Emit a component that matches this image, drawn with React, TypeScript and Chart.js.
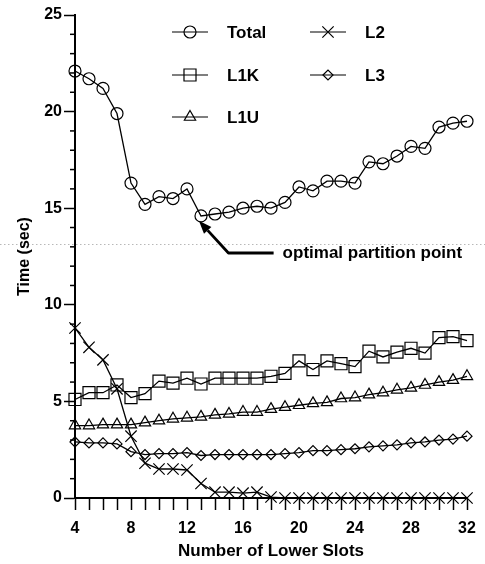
import React, { useEffect, useRef } from 'react';
import { Chart, registerables } from 'chart.js';

Chart.register(...registerables);

// ---- data ----
const SLOTS = [4, 5, 6, 7, 8, 9, 10, 11, 12, 13, 14, 15, 16, 17, 18, 19, 20, 21, 22, 23, 24, 25, 26, 27, 28, 29, 30, 31, 32];
const TOTAL = [22.1, 21.7, 21.2, 19.9, 16.3, 15.2, 15.6, 15.5, 16.0, 14.6, 14.7, 14.8, 15.0, 15.1, 15.0, 15.3, 16.1, 15.9, 16.4, 16.4, 16.3, 17.4, 17.3, 17.7, 18.2, 18.1, 19.2, 19.4, 19.5];
const L1K = [5.1, 5.45, 5.45, 5.85, 5.2, 5.4, 6.05, 5.95, 6.2, 5.9, 6.2, 6.2, 6.2, 6.2, 6.3, 6.45, 7.1, 6.65, 7.1, 6.95, 6.8, 7.6, 7.3, 7.55, 7.75, 7.5, 8.3, 8.35, 8.15];
const L1U = [3.75, 3.75, 3.8, 3.8, 3.8, 3.9, 4.0, 4.1, 4.15, 4.2, 4.3, 4.35, 4.45, 4.45, 4.6, 4.7, 4.8, 4.9, 4.95, 5.15, 5.2, 5.35, 5.45, 5.6, 5.7, 5.85, 6.0, 6.1, 6.3];
const L2 = [8.8, 7.8, 7.15, 5.65, 3.2, 1.8, 1.5, 1.5, 1.45, 0.75, 0.3, 0.3, 0.25, 0.3, 0.05, 0, 0, 0, 0, 0, 0, 0, 0, 0, 0, 0, 0, 0, 0];
const L3 = [2.9, 2.85, 2.85, 2.8, 2.4, 2.25, 2.3, 2.3, 2.35, 2.2, 2.25, 2.25, 2.25, 2.25, 2.25, 2.3, 2.35, 2.45, 2.45, 2.5, 2.55, 2.65, 2.7, 2.75, 2.85, 2.9, 3.0, 3.05, 3.2];

const SERIES_NAMES = ['Total', 'L1K', 'L1U', 'L2', 'L3'];
const SERIES_VALUES = [TOTAL, L1K, L1U, L2, L3];
const SERIES_MARKERS = ['circle', 'rect', 'triangle', 'crossRot', 'rectRot'];
const MARKER_RADII = [6, 8.5, 6.5, 8, 5];

const Y_MIN = 0;
const Y_MAX = 25;
const X_LABEL_STEP = 4;
const ANNOTATION_TEXT = 'optimal partition point';
const X_TITLE = 'Number of Lower Slots';
const Y_TITLE = 'Time (sec)';

const FONT = '"Liberation Sans", Arial, sans-serif';

function drawMarker(ctx: CanvasRenderingContext2D, style: string, x: number, y: number, r: number) {
  ctx.beginPath();
  if (style === 'circle') {
    ctx.arc(x, y, r, 0, Math.PI * 2);
  } else if (style === 'rect') {
    const s = Math.SQRT1_2 * r;
    ctx.rect(x - s, y - s, 2 * s, 2 * s);
  } else if (style === 'triangle') {
    ctx.moveTo(x, y - r);
    ctx.lineTo(x + r * Math.sin((2 * Math.PI) / 3), y - r * Math.cos((2 * Math.PI) / 3));
    ctx.lineTo(x + r * Math.sin((4 * Math.PI) / 3), y - r * Math.cos((4 * Math.PI) / 3));
    ctx.closePath();
  } else if (style === 'rectRot') {
    ctx.moveTo(x - r, y);
    ctx.lineTo(x, y - r);
    ctx.lineTo(x + r, y);
    ctx.lineTo(x, y + r);
    ctx.closePath();
  } else if (style === 'crossRot') {
    const o = Math.SQRT1_2 * r;
    ctx.moveTo(x - o, y - o);
    ctx.lineTo(x + o, y + o);
    ctx.moveTo(x + o, y - o);
    ctx.lineTo(x - o, y + o);
  }
  ctx.stroke();
}

const decorPlugin = {
  id: 'decor',
  afterDraw(chart: any) {
    const ctx: CanvasRenderingContext2D = chart.ctx;
    const xs = chart.scales.x;
    const ys = chart.scales.y;
    const area = chart.chartArea;
    ctx.save();

    // faint scan line across the page
    const scanY = Math.round(ys.getPixelForValue(13.17)) + 0.5;
    ctx.strokeStyle = 'rgba(0,0,0,0.28)';
    ctx.lineWidth = 1;
    ctx.setLineDash([1.5, 2.5]);
    ctx.beginPath();
    ctx.moveTo(0, scanY);
    ctx.lineTo(chart.width, scanY);
    ctx.stroke();
    ctx.setLineDash([]);

    // minor y ticks
    ctx.strokeStyle = '#000';
    ctx.lineWidth = 1.5;
    for (let v = Y_MIN; v <= Y_MAX; v++) {
      if (v % 5 === 0) continue;
      const py = ys.getPixelForValue(v);
      ctx.beginPath();
      ctx.moveTo(area.left - 5, py);
      ctx.lineTo(area.left, py);
      ctx.stroke();
    }

    // legend
    const cols = [area.left + 97, area.left + 235];
    const rows = [area.top + 17, area.top + 60, area.top + 102];
    const places = [[0, 0], [0, 1], [0, 2], [1, 0], [1, 1]];
    ctx.font = 'bold 17px ' + FONT;
    ctx.textBaseline = 'middle';
    ctx.textAlign = 'left';
    ctx.fillStyle = '#000';
    SERIES_NAMES.forEach((name, i) => {
      const lx = cols[places[i][0]];
      const ly = rows[places[i][1]];
      ctx.lineWidth = 1.1;
      ctx.beginPath();
      ctx.moveTo(lx, ly);
      ctx.lineTo(lx + 36, ly);
      ctx.stroke();
      ctx.lineWidth = 1.2;
      drawMarker(ctx, SERIES_MARKERS[i], lx + 18, ly, MARKER_RADII[i]);
      ctx.fillText(name, lx + 55, ly + 1);
    });

    // annotation arrow
    const tipX = xs.getPixelForValue(12.85);
    const tipY = ys.getPixelForValue(14.35);
    const kneeX = xs.getPixelForValue(14.96);
    const kneeY = ys.getPixelForValue(12.68);
    const textX = xs.getPixelForValue(18.83);
    ctx.lineWidth = 2.8;
    ctx.lineJoin = 'round';
    const ang = Math.atan2(tipY - kneeY, tipX - kneeX);
    const headLen = 13;
    const baseX = tipX - Math.cos(ang) * headLen;
    const baseY = tipY - Math.sin(ang) * headLen;
    ctx.beginPath();
    ctx.moveTo(textX - 9, kneeY);
    ctx.lineTo(kneeX, kneeY);
    ctx.lineTo(baseX, baseY);
    ctx.stroke();
    ctx.beginPath();
    ctx.moveTo(tipX, tipY);
    ctx.lineTo(baseX + Math.sin(ang) * 5, baseY - Math.cos(ang) * 5);
    ctx.lineTo(baseX - Math.sin(ang) * 5, baseY + Math.cos(ang) * 5);
    ctx.closePath();
    ctx.fill();
    ctx.font = 'bold 17px ' + FONT;
    ctx.textBaseline = 'middle';
    ctx.fillText(ANNOTATION_TEXT, textX, kneeY);

    ctx.restore();
  },
};

export default function App() {
  const ref = useRef<HTMLCanvasElement | null>(null);

  useEffect(() => {
    document.body.style.margin = '0';
    const canvas = ref.current;
    if (!canvas) return;
    const datasets = SERIES_NAMES.map((name, i) => ({
      label: name,
      data: SLOTS.map((x, j) => ({ x, y: SERIES_VALUES[i][j] })),
      borderColor: '#000',
      borderWidth: 1.3,
      backgroundColor: 'transparent',
      pointStyle: SERIES_MARKERS[i],
      pointRadius: MARKER_RADII[i],
      pointBorderColor: '#000',
      pointBackgroundColor: 'transparent',
      pointBorderWidth: 1.2,
      tension: 0,
      clip: false as any,
    }));
    const chart = new Chart(canvas, {
      type: 'line',
      data: { datasets },
      plugins: [decorPlugin],
      options: {
        animation: false,
        responsive: true,
        maintainAspectRatio: false,
        devicePixelRatio: 1,
        layout: { padding: { top: 15, right: 18, left: 0, bottom: 0 } },
        plugins: { legend: { display: false }, tooltip: { enabled: false } },
        scales: {
          x: {
            type: 'linear',
            min: SLOTS[0],
            max: SLOTS[SLOTS.length - 1],
            afterFit(scale: any) {
              scale.height = 66;
            },
            border: { display: true, color: '#000', width: 2 },
            grid: {
              display: true,
              drawOnChartArea: false,
              drawTicks: true,
              tickLength: 12,
              tickWidth: 1.5,
              tickColor: '#000',
            },
            ticks: {
              stepSize: 1,
              autoSkip: false,
              maxRotation: 0,
              padding: 9,
              color: '#000',
              font: { family: FONT, size: 16, weight: 'bold' },
              callback: (v: any) => (Number(v) % X_LABEL_STEP === 0 ? String(v) : ''),
            },
            title: {
              display: true,
              text: X_TITLE,
              color: '#000',
              font: { family: FONT, size: 17, weight: 'bold' },
              padding: { top: 0, bottom: 2 },
            },
          },
          y: {
            type: 'linear',
            min: Y_MIN,
            max: Y_MAX,
            afterFit(scale: any) {
              scale.width = 75;
            },
            border: { display: true, color: '#000', width: 2 },
            grid: {
              display: true,
              drawOnChartArea: false,
              drawTicks: true,
              tickLength: 11,
              tickWidth: 1.5,
              tickColor: '#000',
            },
            ticks: {
              stepSize: 5,
              padding: 2,
              color: '#000',
              font: { family: FONT, size: 16, weight: 'bold' },
            },
            title: {
              display: true,
              text: Y_TITLE,
              color: '#000',
              font: { family: FONT, size: 16, weight: 'bold' },
              padding: { top: 15, bottom: 0 },
            },
          },
        },
      } as any,
    });
    return () => chart.destroy();
  }, []);

  return (
    <div style={{ width: 485, height: 564, position: 'relative', background: '#fff' }}>
      <canvas ref={ref} />
    </div>
  );
}
